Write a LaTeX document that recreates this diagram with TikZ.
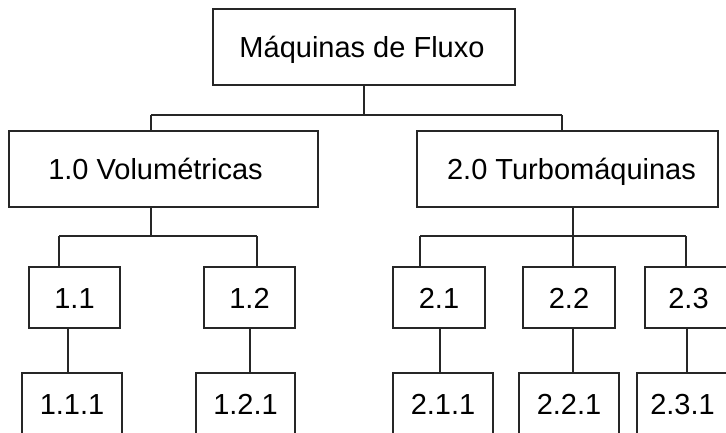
\documentclass[tikz,border=0pt]{standalone}
\usepackage{fontspec}
\setmainfont{Liberation Sans}
\begin{document}
\begin{tikzpicture}[x=1pt,y=-1pt,
  box/.style={draw=black!85, line width=1.4pt, inner sep=0pt, fill=white,
    text height=21pt, text depth=0pt,
    font=\fontsize{29}{31}\selectfont},
  big/.style={box, minimum height=76pt},
  mid/.style={box, minimum height=61pt},
  conn/.style={draw=black!85, line width=1.2pt}]
\useasboundingbox (0,0) rectangle (726,432);
\clip (0,0) rectangle (726,432);
% boxes
\node[big, minimum width=302pt] (top) at (364,47) {Máquinas de Fluxo\hspace*{4pt}};
\node[big, minimum width=309pt] (v1) at (163.5,169) {1.0 Volumétricas\hspace*{16pt}};
\node[big, minimum width=301pt] (v2) at (567.5,169) {\hspace*{8pt}2.0 Turbomáquinas};
\node[mid, minimum width=91pt] (n11) at (74.5,297.5) {1.1};
\node[mid, minimum width=91pt] (n12) at (249.5,297.5) {1.2};
\node[mid, minimum width=92pt] (n21) at (439,297.5) {2.1};
\node[mid, minimum width=92pt] (n22) at (569,297.5) {2.2};
\node[mid, minimum width=92pt] (n23) at (691,297.5) {2.3\hspace*{5pt}};
\node[mid, minimum width=100pt] (n111) at (72,403.5) {1.1.1};
\node[mid, minimum width=99pt] (n121) at (245.5,403.5) {1.2.1};
\node[mid, minimum width=100pt] (n211) at (443,403.5) {2.1.1};
\node[mid, minimum width=100pt] (n221) at (569,403.5) {2.2.1};
\node[mid, minimum width=100pt] (n231) at (687,403.5) {2.3.1\hspace*{9pt}};
% level 0 -> 1
\coordinate (j0L) at (151,115);
\coordinate (j0R) at (562,115);
\draw[conn] (top.south) -- (top.south |- j0L);
\draw[conn] (j0L) -- (j0R);
\draw[conn] (j0L) -- (v1.north -| j0L);
\draw[conn] (j0R) -- (v2.north -| j0R);
% level 1 -> 2 (left)
\coordinate (j1L) at (59,236);
\coordinate (j1M) at (151,236);
\coordinate (j1R) at (257,236);
\draw[conn] (v1.south -| j1M) -- (j1M);
\draw[conn] (j1L) -- (j1R);
\draw[conn] (j1L) -- (n11.north -| j1L);
\draw[conn] (j1R) -- (n12.north -| j1R);
% level 1 -> 2 (right)
\coordinate (j2L) at (420,236);
\coordinate (j2M) at (573,236);
\coordinate (j2R) at (686,236);
\draw[conn] (v2.south -| j2M) -- (n22.north -| j2M);
\draw[conn] (j2L) -- (j2R);
\draw[conn] (j2L) -- (n21.north -| j2L);
\draw[conn] (j2R) -- (n23.north -| j2R);
% level 2 -> 3
\coordinate (k1) at (68,350);
\coordinate (k2) at (250,350);
\coordinate (k3) at (440,350);
\coordinate (k4) at (573,350);
\coordinate (k5) at (687,350);
\draw[conn] (n11.south -| k1) -- (n111.north -| k1);
\draw[conn] (n12.south -| k2) -- (n121.north -| k2);
\draw[conn] (n21.south -| k3) -- (n211.north -| k3);
\draw[conn] (n22.south -| k4) -- (n221.north -| k4);
\draw[conn] (n23.south -| k5) -- (n231.north -| k5);
\end{tikzpicture}
\end{document}
